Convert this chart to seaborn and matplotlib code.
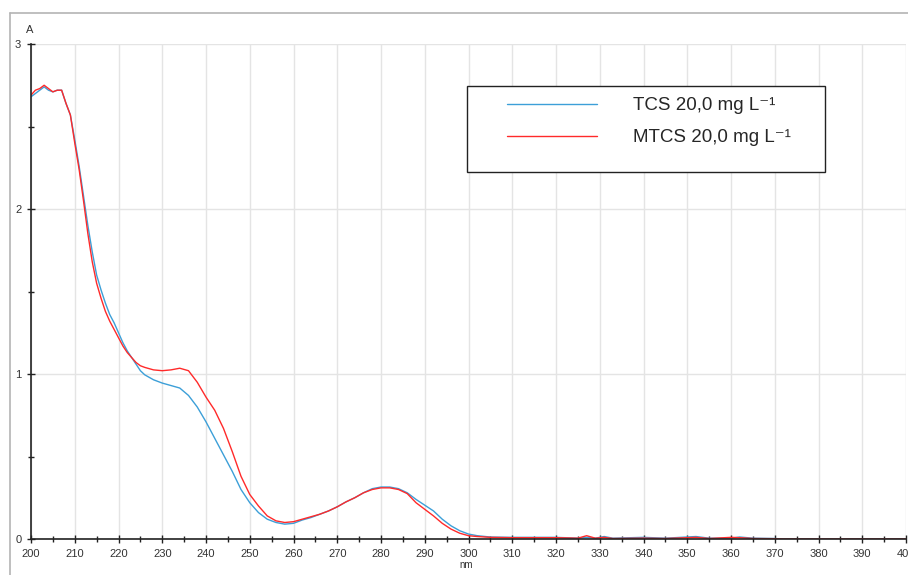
import numpy as np
import pandas as pd
import matplotlib
matplotlib.use("Agg")
import matplotlib.pyplot as plt
from matplotlib.lines import Line2D
from matplotlib.patches import Rectangle
from matplotlib.ticker import MultipleLocator
import seaborn as sns

# Wavelength grid (nm) and absorbance of the two spectra
wavelength = [200, 201, 202, 203, 204, 205, 206, 207, 208, 209, 210, 211, 212, 213, 214,
              215, 216, 217, 218, 219, 220, 221, 222, 223, 224, 225, 226, 228, 230, 232,
              234, 236, 238, 240, 242, 244, 246, 248, 250, 252, 254, 256, 258, 260, 262,
              264, 266, 268, 270, 272, 274, 276, 278, 280, 282, 284, 286, 288, 290, 292,
              294, 296, 298, 300, 302, 305, 310, 320, 325, 327, 329, 331, 333, 340, 345,
              352, 355, 360, 362, 365, 370, 372, 380, 390, 400]
tcs = [2.68, 2.70, 2.72, 2.74, 2.72, 2.71, 2.72, 2.72, 2.64, 2.57, 2.42, 2.26, 2.08, 1.90, 1.74,
       1.60, 1.51, 1.43, 1.36, 1.31, 1.25, 1.19, 1.14, 1.10, 1.06, 1.02, 0.995, 0.965, 0.945, 0.93,
       0.915, 0.87, 0.80, 0.71, 0.61, 0.51, 0.41, 0.30, 0.22, 0.16, 0.12, 0.10, 0.09, 0.095, 0.115,
       0.13, 0.15, 0.17, 0.195, 0.225, 0.25, 0.28, 0.305, 0.315, 0.315, 0.305, 0.28, 0.24, 0.205, 0.17,
       0.12, 0.08, 0.05, 0.03, 0.02, 0.012, 0.01, 0.01, 0.005, 0.01, 0.005, 0.015, 0.005, 0.01, 0.005,
       0.015, 0.005, 0.005, 0.012, 0.005, 0.003, 0.0, 0.0, 0.0, 0.0]
mtcs = [2.69, 2.72, 2.73, 2.75, 2.73, 2.71, 2.72, 2.72, 2.64, 2.57, 2.40, 2.24, 2.05, 1.85, 1.68,
        1.55, 1.46, 1.38, 1.32, 1.27, 1.22, 1.17, 1.13, 1.10, 1.07, 1.05, 1.04, 1.025, 1.02, 1.025,
        1.035, 1.02, 0.95, 0.86, 0.78, 0.67, 0.53, 0.38, 0.27, 0.20, 0.14, 0.11, 0.10, 0.105, 0.12,
        0.135, 0.15, 0.17, 0.195, 0.225, 0.25, 0.28, 0.30, 0.31, 0.31, 0.30, 0.275, 0.22, 0.18, 0.14,
        0.095, 0.06, 0.035, 0.02, 0.015, 0.01, 0.008, 0.008, 0.005, 0.02, 0.005, 0.01, 0.003, 0.005, 0.003,
        0.01, 0.003, 0.01, 0.008, 0.003, 0.002, 0.0, 0.0, 0.0, 0.0]
series_names = ["TCS 20,0 mg L\u207b\u00b9", "MTCS 20,0 mg L\u207b\u00b9"]
series_colors = ["#3c9fd8", "#ff2a2a"]

df = pd.concat([
    pd.DataFrame({"nm": wavelength, "A": tcs, "serie": series_names[0]}),
    pd.DataFrame({"nm": wavelength, "A": mtcs, "serie": series_names[1]}),
])

sns.set_style("white")
plt.rcParams["font.family"] = ["Liberation Sans", "DejaVu Sans"]

W, H = 908, 575
fig = plt.figure(figsize=(W / 100, H / 100), dpi=100)
ax = fig.add_axes([31 / W, 1 - 539 / H, (906 - 31) / W, (539 - 44) / H])

sns.lineplot(data=df, x="nm", y="A", hue="serie", palette=series_colors,
             linewidth=1.0, ax=ax, legend=False, sort=False)

ax.set_xlim(200, 400)
ax.set_ylim(0, 3)
ax.xaxis.set_major_locator(MultipleLocator(10))
ax.xaxis.set_minor_locator(MultipleLocator(5))
ax.yaxis.set_major_locator(MultipleLocator(1))
ax.yaxis.set_minor_locator(MultipleLocator(0.5))
ax.grid(True, which="major", color="#e4e4e4", linewidth=1.0)
ax.set_axisbelow(True)
for s in ["top", "right"]:
    ax.spines[s].set_visible(False)
for s in ["left", "bottom"]:
    ax.spines[s].set_color("#222222")
    ax.spines[s].set_linewidth(1.2)
ax.tick_params(which="major", direction="inout", length=6, width=1, color="#222222",
               labelsize=8, labelcolor="#333333", pad=4, bottom=True, left=True)
ax.tick_params(which="minor", direction="inout", length=5, width=1, color="#222222",
               bottom=True, left=True)
ax.set_xlabel("")
ax.set_ylabel("")

fig.text(30 / W, 1 - 30 / H, "A", fontsize=8, color="#333333", ha="center", va="center")
fig.text(466 / W, 1 - 565 / H, "nm", fontsize=7, color="#333333", ha="center", va="center")

# Legend box with the two spectra
fig.patches.append(Rectangle((467 / W, 1 - 172 / H), (825 - 467) / W, (172 - 86) / H,
                             transform=fig.transFigure, facecolor="white",
                             edgecolor="#222222", linewidth=1.0, zorder=5))
handles = [Line2D([], [], color=c, linewidth=1.0) for c in series_colors]
fig.legend(handles, series_names, loc="upper left",
           bbox_to_anchor=(507 / W, 1 - 97 / H), bbox_transform=fig.transFigure,
           frameon=False, fontsize=13.5, handlelength=4.8, handletextpad=1.9,
           labelspacing=0.8, borderpad=0, borderaxespad=0)

# Outer frame of the window
fig.add_artist(Line2D([10 / W, 1], [1 - 13 / H, 1 - 13 / H], transform=fig.transFigure,
                      color="#b4b4b4", linewidth=1.2))
fig.add_artist(Line2D([10 / W, 10 / W], [0, 1 - 13 / H], transform=fig.transFigure,
                      color="#b4b4b4", linewidth=1.2))

fig.savefig("out.png", dpi=100)
